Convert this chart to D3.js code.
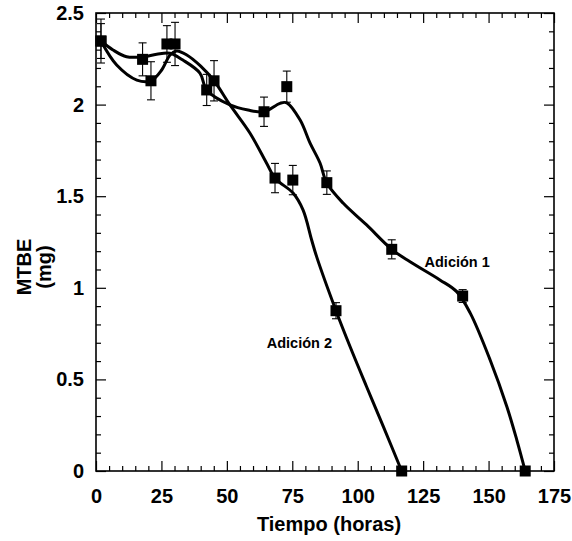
<!DOCTYPE html>
<html>
<head>
<meta charset="utf-8">
<script src="https://cdn.jsdelivr.net/npm/d3@7"></script>
<style>
  body { margin: 0; background: #fff; }
  text { font-family: "Liberation Sans", Arial, sans-serif; font-weight: bold; fill: #000; }
</style>
</head>
<body>
<div id="root"></div>
<script>
const width = 572,
      height = 541,
      margin = { left: 96, right: 18, top: 13, bottom: 70 }

// Adición 1 - measured points (hours, mg) and error (±)
const tiempo1 = [1.9, 17.8, 27.1, 42.3, 64.2, 72.9, 88.2, 113.0, 140.1, 164.0]
const mtbe1   = [2.347, 2.247, 2.331, 2.080, 1.961, 2.098, 1.574, 1.210, 0.955, 0]
const err1    = [0.12, 0.09, 0.10, 0.085, 0.08, 0.085, 0.064, 0.052, 0.035, 0]

// Adición 2 - measured points
const tiempo2 = [1.9, 21.0, 30.2, 45.1, 68.4, 75.2, 91.7, 116.8]
const mtbe2   = [2.347, 2.130, 2.331, 2.130, 1.599, 1.588, 0.875, 0]
const err2    = [0.095, 0.104, 0.118, 0.11, 0.08, 0.08, 0.044, 0]

// smoothed curves
const curveT1 = [1.9, 6.5, 11.7, 18.0, 23.2, 28.3, 33.2, 39.7, 42.3, 51.2, 58.1, 64.2, 70.3, 72.9, 78.0, 81.8, 85.6, 88.2, 94.5, 103.4, 113.0, 120.0, 131.4, 137.8, 143.0, 150.6, 157.0, 160.8, 164.0]
const curveV1 = [2.347, 2.298, 2.261, 2.261, 2.275, 2.280, 2.243, 2.172, 2.080, 1.998, 1.970, 1.961, 2.007, 2.010, 1.916, 1.790, 1.681, 1.572, 1.461, 1.343, 1.210, 1.142, 1.043, 0.979, 0.862, 0.606, 0.351, 0.169, 0]
const curveT2 = [1.9, 7.9, 15.6, 21.0, 25.1, 28.3, 30.8, 34.7, 40.0, 45.1, 51.2, 58.8, 65.2, 68.4, 75.3, 79.1, 82.4, 84.3, 91.7, 97.1, 103.4, 109.8, 116.8]
const curveV2 = [2.347, 2.216, 2.134, 2.130, 2.189, 2.271, 2.293, 2.271, 2.210, 2.130, 1.998, 1.845, 1.680, 1.598, 1.517, 1.425, 1.261, 1.170, 0.875, 0.678, 0.460, 0.242, 0]

const xTicks = [0, 25, 50, 75, 100, 125, 150, 175]
const yTicks = [0, 0.5, 1, 1.5, 2, 2.5]
const xMinor = d3.range(5, 175, 5).filter(v => v % 25 !== 0)
const yMinor = d3.range(1, 25).filter(v => v % 5 !== 0).map(v => v / 10)

const labels = [
  { text: 'Adición 1', t: 138, v: 1.14 },
  { text: 'Adición 2', t: 77.7, v: 0.7 }
]

const svg = d3.select('#root')
  .append('svg')
  .attr('width', width)
  .attr('height', height)

const x = d3.scaleLinear().domain([0, 175]).range([margin.left, width - margin.right])
const y = d3.scaleLinear().domain([0, 2.5]).range([height - margin.bottom, margin.top])

const plotW = x(175) - x(0),
      plotH = y(0) - y(2.5)

// axes, ticks pointing inward on all four sides
function styleAxis(g) {
  g.select('.domain').remove()
  g.selectAll('line').attr('stroke', '#000').attr('stroke-width', 1.2)
  g.selectAll('text').style('font-size', '20px').style('font-weight', 'bold')
}

svg.append('g')
  .attr('transform', `translate(0,${y(0)})`)
  .call(d3.axisBottom(x).tickValues(xTicks).tickSize(-10).tickPadding(18).tickFormat(d3.format('d')))
  .call(styleAxis)
svg.append('g')
  .attr('transform', `translate(0,${y(0)})`)
  .call(d3.axisBottom(x).tickValues(xMinor).tickSize(-5).tickFormat(''))
  .call(styleAxis)
svg.append('g')
  .attr('transform', `translate(0,${y(2.5)})`)
  .call(d3.axisTop(x).tickValues(xTicks).tickSize(-10).tickFormat(''))
  .call(styleAxis)
svg.append('g')
  .attr('transform', `translate(0,${y(2.5)})`)
  .call(d3.axisTop(x).tickValues(xMinor).tickSize(-5).tickFormat(''))
  .call(styleAxis)

svg.append('g')
  .attr('transform', `translate(${x(0)},0)`)
  .call(d3.axisLeft(y).tickValues(yTicks).tickSize(-10).tickPadding(12).tickFormat(d => d))
  .call(styleAxis)
svg.append('g')
  .attr('transform', `translate(${x(0)},0)`)
  .call(d3.axisLeft(y).tickValues(yMinor).tickSize(-5).tickFormat(''))
  .call(styleAxis)
svg.append('g')
  .attr('transform', `translate(${x(175)},0)`)
  .call(d3.axisRight(y).tickValues(yTicks).tickSize(-10).tickFormat(''))
  .call(styleAxis)
svg.append('g')
  .attr('transform', `translate(${x(175)},0)`)
  .call(d3.axisRight(y).tickValues(yMinor).tickSize(-5).tickFormat(''))
  .call(styleAxis)

svg.append('rect')
  .attr('x', x(0)).attr('y', y(2.5))
  .attr('width', plotW).attr('height', plotH)
  .attr('fill', 'none')
  .attr('stroke', '#000')
  .attr('stroke-width', 1.6)

// axis titles
svg.append('text')
  .attr('x', 329).attr('y', 531)
  .attr('text-anchor', 'middle')
  .style('font-size', '20px')
  .text('Tiempo (horas)')

const yTitle = svg.append('text')
  .attr('transform', 'translate(0,267) rotate(-90)')
  .attr('text-anchor', 'middle')
  .style('font-size', '20px')
yTitle.append('tspan').attr('x', 0).attr('y', 31).text('MTBE')
yTitle.append('tspan').attr('x', 0).attr('y', 51).text('(mg)')

// curves
const line = d3.line()
  .x(d => x(d[0]))
  .y(d => y(d[1]))
  .curve(d3.curveCatmullRom.alpha(0.5))

const curves = [d3.zip(curveT1, curveV1), d3.zip(curveT2, curveV2)]
svg.append('g')
  .selectAll('path')
  .data(curves)
  .enter().append('path')
  .attr('d', line)
  .attr('fill', 'none')
  .attr('stroke', '#000')
  .attr('stroke-width', 3)

// points with error bars
const points = d3.zip(tiempo1, mtbe1, err1).concat(d3.zip(tiempo2, mtbe2, err2))

const bars = svg.append('g')
  .attr('stroke', '#000')
  .attr('stroke-width', 1.1)
  .selectAll('g')
  .data(points.filter(d => d[2] > 0))
  .enter().append('g')
bars.append('line')
  .attr('x1', d => x(d[0])).attr('x2', d => x(d[0]))
  .attr('y1', d => y(d[1] + d[2])).attr('y2', d => y(d[1] - d[2]))
bars.append('line')
  .attr('x1', d => x(d[0]) - 4).attr('x2', d => x(d[0]) + 4)
  .attr('y1', d => y(d[1] + d[2])).attr('y2', d => y(d[1] + d[2]))
bars.append('line')
  .attr('x1', d => x(d[0]) - 4).attr('x2', d => x(d[0]) + 4)
  .attr('y1', d => y(d[1] - d[2])).attr('y2', d => y(d[1] - d[2]))

const s = 11
svg.append('g')
  .selectAll('rect')
  .data(points)
  .enter().append('rect')
  .attr('x', d => x(d[0]) - s / 2)
  .attr('y', d => y(d[1]) - s / 2)
  .attr('width', s)
  .attr('height', s)
  .attr('fill', '#000')

// series labels
svg.append('g')
  .selectAll('text')
  .data(labels)
  .enter().append('text')
  .attr('x', d => x(d.t))
  .attr('y', d => y(d.v))
  .attr('text-anchor', 'middle')
  .attr('dy', '0.35em')
  .style('font-size', '14.5px')
  .text(d => d.text)
</script>
</body>
</html>
